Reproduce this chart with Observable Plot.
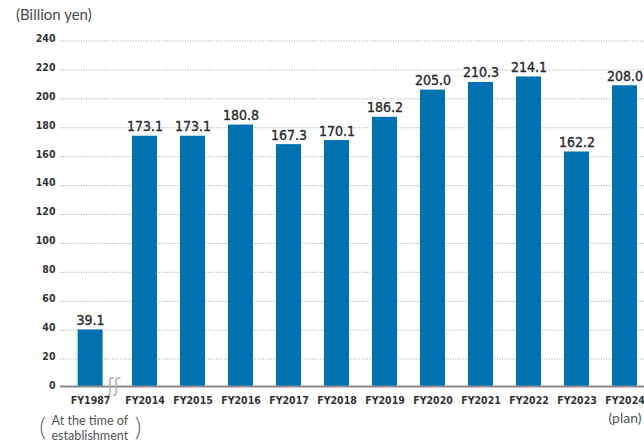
<!DOCTYPE html>
<html>
<head>
<meta charset="utf-8">
<script src="https://cdn.jsdelivr.net/npm/d3@7"></script>
<script src="https://cdn.jsdelivr.net/npm/@observablehq/plot@0.6"></script>
<style>
  html, body { margin: 0; padding: 0; background: #fff; }
  #wrap { position: relative; width: 644px; height: 444px; overflow: hidden; }
  #title { position: absolute; left: 16px; top: 5px; font-family: Lato, "Open Sans", sans-serif; font-size: 15px; color: #4a4a4a; }
  svg { display: block; }
</style>
</head>
<body>
<div id="wrap">
  <div id="title">(Billion yen)</div>
</div>
<script>
const categories = ["FY1987","FY2014","FY2015","FY2016","FY2017","FY2018","FY2019","FY2020","FY2021","FY2022","FY2023","FY2024"];
const values = [39.1, 173.1, 173.1, 180.8, 167.3, 170.1, 186.2, 205.0, 210.3, 214.1, 162.2, 208.0];
const yTicks = [0, 20, 40, 60, 80, 100, 120, 140, 160, 180, 200, 220, 240];
const firstNoteLine1 = "At the time of";
const firstNoteLine2 = "establishment";
const lastNote = "(plan)";

const data = categories.map((c, i) => ({cat: c, value: values[i], label: values[i].toFixed(1)}));
const first = data.filter((d, i) => i === 0);
const rest = data.filter((d, i) => i > 0);

const BLUE = "#0072b2";
const tickFont = "'DejaVu Sans Condensed', 'DejaVu Sans', sans-serif";
const valueFont = "'DejaVu Sans Condensed', 'DejaVu Sans', sans-serif";
const noteFont = "Lato, 'Open Sans', sans-serif";
const valueStyle = {fontFamily: valueFont, fontSize: 14, fill: "#2a2a2a", stroke: "#2a2a2a", strokeWidth: 0.35};
const noteStyle = {fontFamily: noteFont, fontSize: 12.6, fill: "#555"};

const chart = Plot.plot({
  width: 644,
  height: 444,
  marginLeft: 60,
  marginRight: 0,
  marginTop: 0,
  marginBottom: 0,
  x: {type: "band", domain: categories, range: [60.3, 660.6], padding: 0.48, axis: null},
  y: {domain: [0, 240], range: [386, 39], axis: null},
  marks: [
    Plot.ruleY(yTicks.filter(d => d > 0), {stroke: "#9a9a9a", strokeWidth: 0.8, strokeDasharray: "1.2,1.4", dy: 1.5}),
    Plot.text(yTicks, {y: d => d, text: d => String(d), frameAnchor: "left", textAnchor: "end", dx: -5, dy: -1,
      fontFamily: tickFont, fontWeight: "bold", fontSize: 10.5, fill: "#333"}),
    Plot.barY(first, {x: "cat", y: "value", fill: BLUE, dx: -6.4}),
    Plot.barY(rest, {x: "cat", y: "value", fill: BLUE}),
    Plot.ruleY([0], {stroke: "#8a8a8a", strokeWidth: 2}),
    Plot.text(first, {x: "cat", y: "value", text: "label", dx: -6.4, dy: -5, lineAnchor: "bottom", ...valueStyle}),
    Plot.text(rest, {x: "cat", y: "value", text: "label", dy: -5, lineAnchor: "bottom", ...valueStyle}),
    Plot.text(first, {x: "cat", y: 0, text: "cat", dx: -6.4, dy: 14,
      fontFamily: tickFont, fontWeight: "bold", fontSize: 10.5, fill: "#333"}),
    Plot.text(rest, {x: "cat", y: 0, text: "cat", dy: 14,
      fontFamily: tickFont, fontWeight: "bold", fontSize: 10.5, fill: "#333"}),
    Plot.text(first, {x: "cat", y: 0, text: () => "ʃʃ", dx: 16.5, dy: -1,
      fontFamily: "'DejaVu Sans', sans-serif", fontSize: 19, fill: "#b8b8b8", letterSpacing: "-3px"}),
    Plot.text(first, {x: "cat", y: 0, text: () => firstNoteLine1, dx: -7.1, dy: 34, ...noteStyle}),
    Plot.text(first, {x: "cat", y: 0, text: () => firstNoteLine2, dx: -7.1, dy: 49.3, ...noteStyle}),
    Plot.text(first, {x: "cat", y: 0, text: () => "(", dx: -54.5, dy: 41.5,
      fontFamily: noteFont, fontWeight: 300, fontSize: 26, fill: "#666"}),
    Plot.text(first, {x: "cat", y: 0, text: () => ")", dx: 41, dy: 41.5,
      fontFamily: noteFont, fontWeight: 300, fontSize: 26, fill: "#666"}),
    Plot.text(data.filter((d, i) => i === data.length - 1), {x: "cat", y: 0, text: () => lastNote, dy: 31.7,
      fontFamily: noteFont, fontSize: 14, fill: "#555"})
  ]
});
document.getElementById("wrap").prepend(chart);
</script>
</body>
</html>
